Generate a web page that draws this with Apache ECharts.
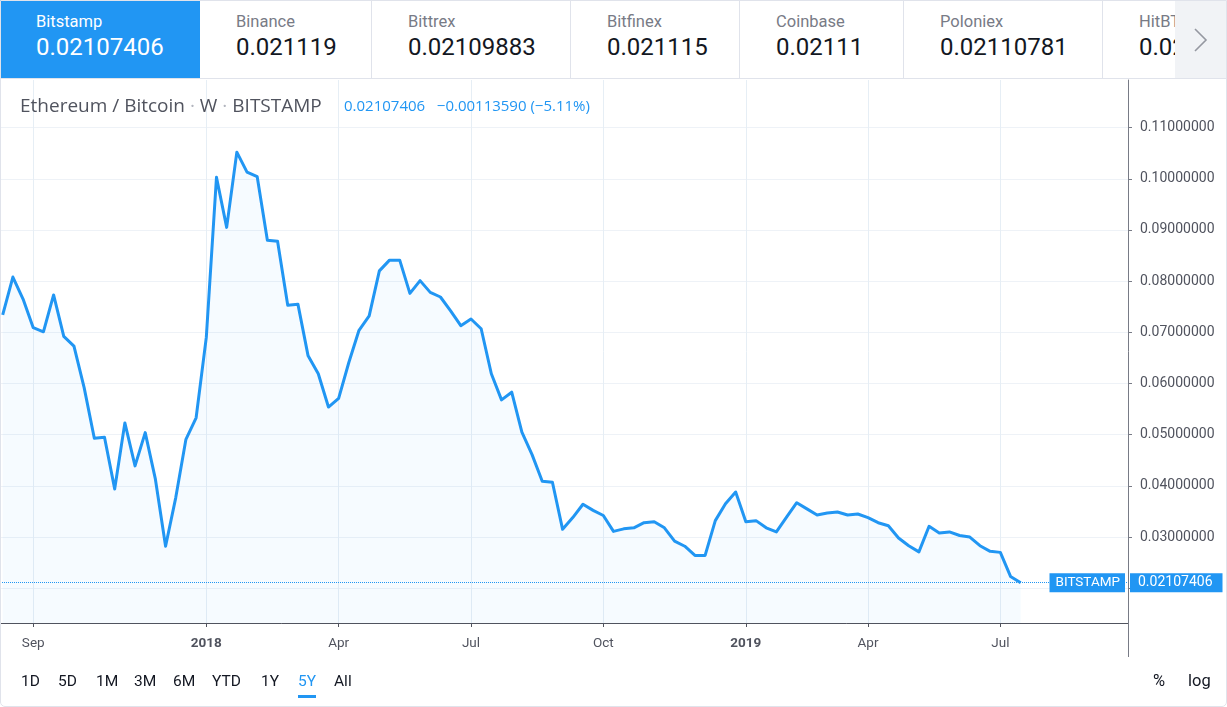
<!DOCTYPE html>
<html>
<head>
<meta charset="utf-8">
<script src="https://cdn.jsdelivr.net/npm/echarts@6/dist/echarts.min.js"></script>
<style>
html,body{margin:0;padding:0;width:1227px;height:707px;overflow:hidden;background:#fff;font-family:Roboto,"Noto Sans",sans-serif;}
#chart{position:absolute;left:0;top:0;width:1227px;height:707px;}
#header{position:absolute;left:0;top:0;width:1227px;height:78px;border-bottom:1px solid #e0e3eb;background:#fff;z-index:2;}
.tab{position:absolute;top:0;height:78px;box-sizing:border-box;border-right:1px solid #e0e3eb;padding-left:36px;overflow:hidden;white-space:nowrap;}
.tab .t{font-size:16.5px;color:#787b86;margin-top:12px;line-height:20px;}
.tab .v{font-size:24px;color:#131722;line-height:28px;margin-top:1px;}
.tab.active{background:#2196f3;border-right:none;}
.tab.active .t,.tab.active .v{color:#fff;}
#arrow{position:absolute;left:1175px;top:0;width:52px;height:78px;background:#f1f3f6;z-index:3;}
#arrow svg{position:absolute;left:17px;top:27px;}
#legend{position:absolute;left:20px;top:93px;height:24px;line-height:24px;font-family:"Open Sans",Roboto,sans-serif;font-size:19px;color:#50535e;z-index:2;white-space:nowrap;}
#legend .dot{color:#b2b5be;}
#legval{position:absolute;left:344px;top:95px;line-height:20px;font-family:"Open Sans",Roboto,sans-serif;font-size:15px;color:#2196f3;z-index:2;white-space:nowrap;}
.rb{position:absolute;top:671px;line-height:20px;font-size:15.5px;color:#131722;z-index:2;}
#ul{position:absolute;left:298px;top:695px;width:18px;height:3px;background:#2196f3;z-index:2;}
#frame{position:absolute;left:0;top:0;width:1227px;height:707px;box-sizing:border-box;border:1px solid #e0e3eb;border-radius:0 0 5px 5px;pointer-events:none;z-index:5;}
</style>
</head>
<body>
<div id="chart"></div>
<div id="header">
  <div class="tab active" style="left:0;width:200px;"><div class="t">Bitstamp</div><div class="v">0.02107406</div></div>
  <div class="tab" style="left:200px;width:172px;"><div class="t">Binance</div><div class="v">0.021119</div></div>
  <div class="tab" style="left:372px;width:199px;"><div class="t">Bittrex</div><div class="v">0.02109883</div></div>
  <div class="tab" style="left:571px;width:169px;"><div class="t">Bitfinex</div><div class="v">0.021115</div></div>
  <div class="tab" style="left:740px;width:164px;"><div class="t">Coinbase</div><div class="v">0.02111</div></div>
  <div class="tab" style="left:904px;width:199px;"><div class="t">Poloniex</div><div class="v">0.02110781</div></div>
  <div class="tab" style="left:1103px;width:72px;border-right:none;"><div class="t">HitBTC</div><div class="v">0.02110000</div></div>
  <div id="arrow"><svg width="18" height="26" viewBox="0 0 18 26"><polyline points="3,2 14,13 3,24" fill="none" stroke="#9598a1" stroke-width="1.6"/></svg></div>
</div>
<div id="legend">Ethereum / Bitcoin <span class="dot">·</span> W <span class="dot">·</span> BITSTAMP</div>
<div id="legval">0.02107406&nbsp;&nbsp;&nbsp;−0.00113590 (−5.11%)</div>
<div class="rb" style="left:21px;">1D</div>
<div class="rb" style="left:58px;">5D</div>
<div class="rb" style="left:96px;">1M</div>
<div class="rb" style="left:134px;">3M</div>
<div class="rb" style="left:173px;">6M</div>
<div class="rb" style="left:212px;">YTD</div>
<div class="rb" style="left:261px;">1Y</div>
<div class="rb" style="left:298px;color:#2196f3;">5Y</div>
<div class="rb" style="left:334px;">All</div>
<div id="ul"></div>
<div class="rb" style="left:1153px;font-size:16.5px;">%</div>
<div class="rb" style="left:1188px;font-size:16.5px;">log</div>
<div id="frame"></div>
<script>
// ---- data ----
const weekDates = [
  '2017-08-14','2017-08-21','2017-08-28','2017-09-04','2017-09-11','2017-09-18','2017-09-25',
  '2017-10-02','2017-10-09','2017-10-16','2017-10-23','2017-10-30','2017-11-06','2017-11-13',
  '2017-11-20','2017-11-27','2017-12-04','2017-12-11','2017-12-18','2017-12-25',
  '2018-01-01','2018-01-08','2018-01-15','2018-01-22','2018-01-29','2018-02-05','2018-02-12',
  '2018-02-19','2018-02-26','2018-03-05','2018-03-12','2018-03-19','2018-03-26','2018-04-02',
  '2018-04-09','2018-04-16','2018-04-23','2018-04-30','2018-05-07','2018-05-14','2018-05-21',
  '2018-05-28','2018-06-04','2018-06-11','2018-06-18','2018-06-25','2018-07-02','2018-07-09',
  '2018-07-16','2018-07-23','2018-07-30','2018-08-06','2018-08-13','2018-08-20','2018-08-27',
  '2018-09-03','2018-09-10','2018-09-17','2018-09-24','2018-10-01','2018-10-08','2018-10-15',
  '2018-10-22','2018-10-29','2018-11-05','2018-11-12','2018-11-19','2018-11-26','2018-12-03',
  '2018-12-10','2018-12-17','2018-12-24','2018-12-31','2019-01-07','2019-01-14','2019-01-21',
  '2019-01-28','2019-02-04','2019-02-11','2019-02-18','2019-02-25','2019-03-04','2019-03-11',
  '2019-03-18','2019-03-25','2019-04-01','2019-04-08','2019-04-15','2019-04-22','2019-04-29',
  '2019-05-06','2019-05-13','2019-05-20','2019-05-27','2019-06-03','2019-06-10','2019-06-17',
  '2019-06-24','2019-07-01','2019-07-08','2019-07-15'
];
const closeValues = [
  0.0734,0.0808,0.0765,0.0709,0.0701,0.0773,0.0692,0.0673,0.0592,0.0493,
  0.0495,0.0394,0.0523,0.0439,0.0504,0.0413,0.0282,0.0377,0.0491,0.0533,
  0.0690,0.1003,0.0905,0.1052,0.1013,0.1004,0.0880,0.0878,0.0753,0.0755,
  0.0654,0.0619,0.0554,0.0571,0.0641,0.0704,0.0732,0.0820,0.0841,0.0841,
  0.0776,0.0801,0.0778,0.0769,0.0742,0.0713,0.0726,0.0707,0.0619,0.0568,
  0.0583,0.0505,0.0461,0.0409,0.0407,0.0315,0.0338,0.0364,0.0352,0.0342,
  0.0311,0.0316,0.0318,0.0328,0.0330,0.0318,0.0292,0.0282,0.0264,0.0264,
  0.0332,0.0365,0.0388,0.0330,0.0332,0.0318,0.0310,0.0339,0.0367,0.0355,
  0.0343,0.0347,0.0349,0.0343,0.0345,0.0338,0.0328,0.0322,0.0298,0.0283,
  0.0271,0.0321,0.0308,0.0310,0.0303,0.0300,0.0283,0.0272,0.0270,0.0223,
  0.02107406
];
const timeTickDates  = ['2017-09-04','2018-01-01','2018-04-02','2018-07-02','2018-10-01','2019-01-07','2019-04-01','2019-07-01'];
const timeTickLabels = ['Sep','2018','Apr','Jul','Oct','2019','Apr','Jul'];
const priceTicks = [0.02,0.03,0.04,0.05,0.06,0.07,0.08,0.09,0.10,0.11];
const seriesName = 'BITSTAMP';

// ---- build ----
const toTime = s => Date.parse(s + 'T00:00:00Z');
const DAY = 864e5;
const times = weekDates.map(toTime);
const tickTimes = timeTickDates.map(toTime);
const labelByTime = {};
tickTimes.forEach((t, i) => {
  const lab = timeTickLabels[i];
  labelByTime[t] = /^\d{4}$/.test(lab) ? '{y|' + lab + '}' : lab;
});
const seriesData = times.map((t, i) => [t, closeValues[i]]);
const lastValue = closeValues[closeValues.length - 1];

const pxPerDay = 10.18 / 7;
const gridLeft = 0, gridRight = 99, plotWidth = 1227 - gridLeft - gridRight;
const xMin = times[0] - (2.7 / pxPerDay) * DAY;
const xMax = xMin + (plotWidth / pxPerDay) * DAY;

const chart = echarts.init(document.getElementById('chart'), null, {renderer: 'canvas'});
const option = {
  animation: false,
  backgroundColor: '#ffffff',
  textStyle: {fontFamily: 'Roboto, "Noto Sans", sans-serif'},
  grid: {left: gridLeft, right: gridRight, top: 80, bottom: 84, containLabel: false},
  xAxis: {
    type: 'value',
    min: xMin,
    max: xMax,
    axisLine: {show: true, lineStyle: {color: '#50535e', width: 1}},
    axisTick: {show: true, length: 4, lineStyle: {color: '#50535e'}, customValues: tickTimes},
    axisLabel: {
      customValues: tickTimes,
      margin: 14,
      fontSize: 13.5,
      color: '#50535e',
      formatter: v => labelByTime[v] || '',
      rich: {y: {fontWeight: 'bold', fontSize: 13.5, color: '#50535e'}}
    },
    splitLine: {show: true, lineStyle: {color: '#e6eef5', width: 1}}
  },
  yAxis: {
    type: 'value',
    position: 'right',
    min: 0.0132,
    max: 0.1193,
    axisLine: {show: true, lineStyle: {color: '#787b86', width: 1}},
    axisTick: {show: true, length: 4, lineStyle: {color: '#787b86'}, customValues: priceTicks},
    axisLabel: {
      customValues: priceTicks,
      margin: 12,
      fontSize: 14,
      color: '#50535e',
      formatter: v => Number(v).toFixed(8)
    },
    splitLine: {show: true, lineStyle: {color: '#eef2f7', width: 1}}
  },
  series: [{
    name: seriesName,
    type: 'line',
    data: seriesData,
    showSymbol: false,
    symbol: 'none',
    lineStyle: {color: '#2196f3', width: 3, join: 'round'},
    areaStyle: {color: 'rgba(33,150,243,0.055)', origin: 'start'},
    z: 3,
    markLine: {
      silent: true,
      precision: 8,
      symbol: ['none', 'none'],
      data: [{yAxis: lastValue}],
      lineStyle: {color: '#2196f3', type: 'dotted', width: 1},
      label: {
        show: true,
        position: 'end',
        distance: 2,
        formatter: () => lastValue.toFixed(8),
        color: '#ffffff',
        fontSize: 14,
        backgroundColor: '#2196f3',
        padding: [3, 10, 2, 8]
      }
    }
  }]
};
chart.setOption(option);

const py = chart.convertToPixel({yAxisIndex: 0}, lastValue);
const gridRect = chart.getModel().getComponent('grid', 0).coordinateSystem.getRect();
chart.setOption({
  graphic: [
    {
      type: 'text',
      z: 100,
      style: {
        x: gridRect.x + gridRect.width - 3,
        y: py,
        text: seriesName,
        align: 'right',
        verticalAlign: 'middle',
        fill: '#ffffff',
        font: '13.5px Roboto, "Noto Sans", sans-serif',
        backgroundColor: '#2196f3',
        padding: [3, 5, 2, 6]
      }
    },
    {
      type: 'line',
      z: 100,
      shape: {
        x1: gridRect.x + gridRect.width + 0.5, y1: gridRect.y + gridRect.height,
        x2: gridRect.x + gridRect.width + 0.5, y2: gridRect.y + gridRect.height + 34
      },
      style: {stroke: '#787b86', lineWidth: 1}
    }
  ]
});
</script>
</body>
</html>
